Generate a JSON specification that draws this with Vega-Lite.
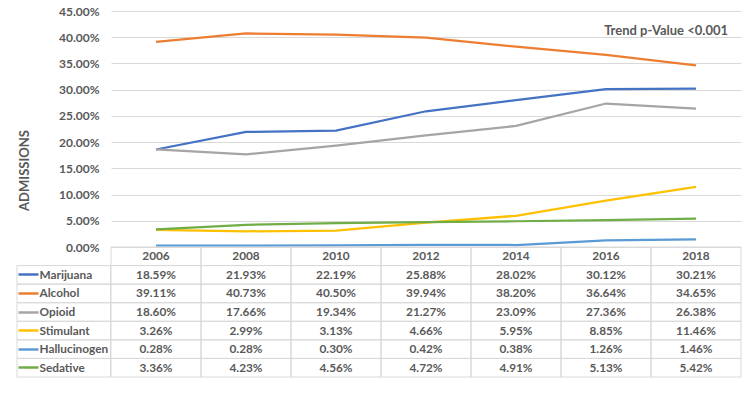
{
  "$schema": "https://vega.github.io/schema/vega-lite/v6.json",
  "padding": {"left": 16, "top": 5, "right": 5, "bottom": 5},
  "background": "white",
  "config": {"view": {"stroke": null}, "font": "Lato"},
  "datasets": {
    "main": [
      {"series": "Marijuana", "year": "2006", "value": 0.1859},
      {"series": "Marijuana", "year": "2008", "value": 0.2193},
      {"series": "Marijuana", "year": "2010", "value": 0.2219},
      {"series": "Marijuana", "year": "2012", "value": 0.2588},
      {"series": "Marijuana", "year": "2014", "value": 0.2802},
      {"series": "Marijuana", "year": "2016", "value": 0.3012},
      {"series": "Marijuana", "year": "2018", "value": 0.3021},
      {"series": "Alcohol", "year": "2006", "value": 0.3911},
      {"series": "Alcohol", "year": "2008", "value": 0.4073},
      {"series": "Alcohol", "year": "2010", "value": 0.4050},
      {"series": "Alcohol", "year": "2012", "value": 0.3994},
      {"series": "Alcohol", "year": "2014", "value": 0.3820},
      {"series": "Alcohol", "year": "2016", "value": 0.3664},
      {"series": "Alcohol", "year": "2018", "value": 0.3465},
      {"series": "Opioid", "year": "2006", "value": 0.1860},
      {"series": "Opioid", "year": "2008", "value": 0.1766},
      {"series": "Opioid", "year": "2010", "value": 0.1934},
      {"series": "Opioid", "year": "2012", "value": 0.2127},
      {"series": "Opioid", "year": "2014", "value": 0.2309},
      {"series": "Opioid", "year": "2016", "value": 0.2736},
      {"series": "Opioid", "year": "2018", "value": 0.2638},
      {"series": "Stimulant", "year": "2006", "value": 0.0326},
      {"series": "Stimulant", "year": "2008", "value": 0.0299},
      {"series": "Stimulant", "year": "2010", "value": 0.0313},
      {"series": "Stimulant", "year": "2012", "value": 0.0466},
      {"series": "Stimulant", "year": "2014", "value": 0.0595},
      {"series": "Stimulant", "year": "2016", "value": 0.0885},
      {"series": "Stimulant", "year": "2018", "value": 0.1146},
      {"series": "Hallucinogen", "year": "2006", "value": 0.0028},
      {"series": "Hallucinogen", "year": "2008", "value": 0.0028},
      {"series": "Hallucinogen", "year": "2010", "value": 0.0030},
      {"series": "Hallucinogen", "year": "2012", "value": 0.0042},
      {"series": "Hallucinogen", "year": "2014", "value": 0.0038},
      {"series": "Hallucinogen", "year": "2016", "value": 0.0126},
      {"series": "Hallucinogen", "year": "2018", "value": 0.0146},
      {"series": "Sedative", "year": "2006", "value": 0.0336},
      {"series": "Sedative", "year": "2008", "value": 0.0423},
      {"series": "Sedative", "year": "2010", "value": 0.0456},
      {"series": "Sedative", "year": "2012", "value": 0.0472},
      {"series": "Sedative", "year": "2014", "value": 0.0491},
      {"series": "Sedative", "year": "2016", "value": 0.0513},
      {"series": "Sedative", "year": "2018", "value": 0.0542}
    ],
    "series": [
      {"series": "Marijuana"}, {"series": "Alcohol"}, {"series": "Opioid"},
      {"series": "Stimulant"}, {"series": "Hallucinogen"}, {"series": "Sedative"}
    ],
    "years": [
      {"year": "2006"}, {"year": "2008"}, {"year": "2010"}, {"year": "2012"},
      {"year": "2014"}, {"year": "2016"}, {"year": "2018"}
    ],
    "note": [{"label": "Trend p-Value <0.001"}]
  },
  "columns": 2,
  "spacing": 0,
  "bounds": "flush",
  "concat": [
    {
      "width": 93.5,
      "height": 236,
      "data": {"name": "note"},
      "mark": {"type": "text", "opacity": 0, "align": "left", "baseline": "top", "fontSize": 1},
      "encoding": {"text": {"value": ""}}
    },
    {
      "width": 630,
      "height": 236,
      "layer": [
        {
          "data": {"name": "main"},
          "mark": {"type": "line", "strokeWidth": 2.25},
          "encoding": {
            "x": {"field": "year", "type": "ordinal", "scale": {"type": "point", "padding": 0.5}, "axis": null},
            "y": {
              "field": "value", "type": "quantitative",
              "scale": {"domain": [0, 0.45], "nice": false},
              "axis": {
                "values": [0, 0.05, 0.1, 0.15, 0.2, 0.25, 0.3, 0.35, 0.4, 0.45],
                "tickCount": 10,
                "format": ".2%",
                "labelOverlap": false,
                "grid": true, "gridColor": "#d9d9d9", "gridWidth": 1,
                "domain": false, "ticks": false,
                "labelPadding": 12, "labelFontSize": 12, "labelFontWeight": "bold", "labelColor": "#595959",
                "title": "ADMISSIONS", "titleFontSize": 13, "titleFontWeight": "bold", "titleColor": "#595959",
                "titleX": -87, "titleY": 159, "titleAngle": -90, "titleAlign": "center", "titleBaseline": "middle"
              }
            },
            "color": {
              "field": "series", "type": "nominal",
              "scale": {
                "domain": ["Marijuana", "Alcohol", "Opioid", "Stimulant", "Hallucinogen", "Sedative"],
                "range": ["#4472C4", "#ED7D31", "#A5A5A5", "#FFC000", "#5B9BD5", "#70AD47"]
              },
              "legend": null
            }
          }
        },
        {
          "data": {"name": "note"},
          "mark": {"type": "text", "align": "right", "baseline": "middle", "dx": 32, "fontWeight": "bold", "fontSize": 13, "color": "#595959"},
          "encoding": {
            "x": {"datum": "2018"},
            "y": {"datum": 0.412},
            "text": {"field": "label"}
          }
        }
      ]
    },
    {
      "width": 93.5,
      "height": 130,
      "data": {"name": "series"},
      "mark": {"type": "rect", "fill": "transparent", "stroke": "#d9d9d9", "strokeWidth": 1},
      "encoding": {
        "y": {
          "field": "series", "type": "nominal",
          "scale": {"domain": ["Year", "Marijuana", "Alcohol", "Opioid", "Stimulant", "Hallucinogen", "Sedative"], "paddingInner": 0, "paddingOuter": 0},
          "axis": {
            "orient": "left", "offset": -21, "minExtent": 0, "title": null, "domain": false, "grid": false,
            "ticks": true, "tickSize": 20, "tickWidth": 2.5,
            "tickColor": {
              "condition": [
                {"test": "datum.value === 'Marijuana'", "value": "#4472C4"},
                {"test": "datum.value === 'Alcohol'", "value": "#ED7D31"},
                {"test": "datum.value === 'Opioid'", "value": "#A5A5A5"},
                {"test": "datum.value === 'Stimulant'", "value": "#FFC000"},
                {"test": "datum.value === 'Hallucinogen'", "value": "#5B9BD5"},
                {"test": "datum.value === 'Sedative'", "value": "#70AD47"}
              ],
              "value": "transparent"
            },
            "labelAlign": "left", "labelPadding": -21, "labelBaseline": "middle",
            "labelExpr": "datum.value === 'Year' ? '' : datum.value",
            "labelFontSize": 11.8, "labelFontWeight": "bold", "labelColor": "#595959",
            "zindex": 1
          }
        }
      }
    },
    {
      "width": 630,
      "height": 130,
      "layer": [
        {
          "data": {"name": "main"},
          "mark": {"type": "rect", "fill": "transparent", "stroke": "#d9d9d9", "strokeWidth": 1},
          "encoding": {
            "x": {"field": "year", "type": "ordinal", "scale": {"paddingInner": 0, "paddingOuter": 0}, "axis": null},
            "y": {
              "field": "series", "type": "nominal",
              "scale": {"domain": ["Year", "Marijuana", "Alcohol", "Opioid", "Stimulant", "Hallucinogen", "Sedative"], "paddingInner": 0, "paddingOuter": 0},
              "axis": null
            }
          }
        },
        {
          "data": {"name": "years"},
          "mark": {"type": "rect", "fill": "transparent", "stroke": "#d9d9d9", "strokeWidth": 1},
          "encoding": {
            "x": {"field": "year", "type": "ordinal"},
            "y": {"datum": "Year"}
          }
        },
        {
          "data": {"name": "main"},
          "mark": {"type": "text", "fontWeight": "bold", "fontSize": 11.8, "color": "#595959", "baseline": "middle"},
          "encoding": {
            "x": {"field": "year", "type": "ordinal"},
            "y": {"field": "series", "type": "nominal"},
            "text": {"field": "value", "type": "quantitative", "format": ".2%"}
          }
        },
        {
          "data": {"name": "years"},
          "mark": {"type": "text", "fontWeight": "bold", "fontSize": 11.8, "color": "#595959", "baseline": "middle"},
          "encoding": {
            "x": {"field": "year", "type": "ordinal"},
            "y": {"datum": "Year"},
            "text": {"field": "year"}
          }
        }
      ]
    }
  ]
}
